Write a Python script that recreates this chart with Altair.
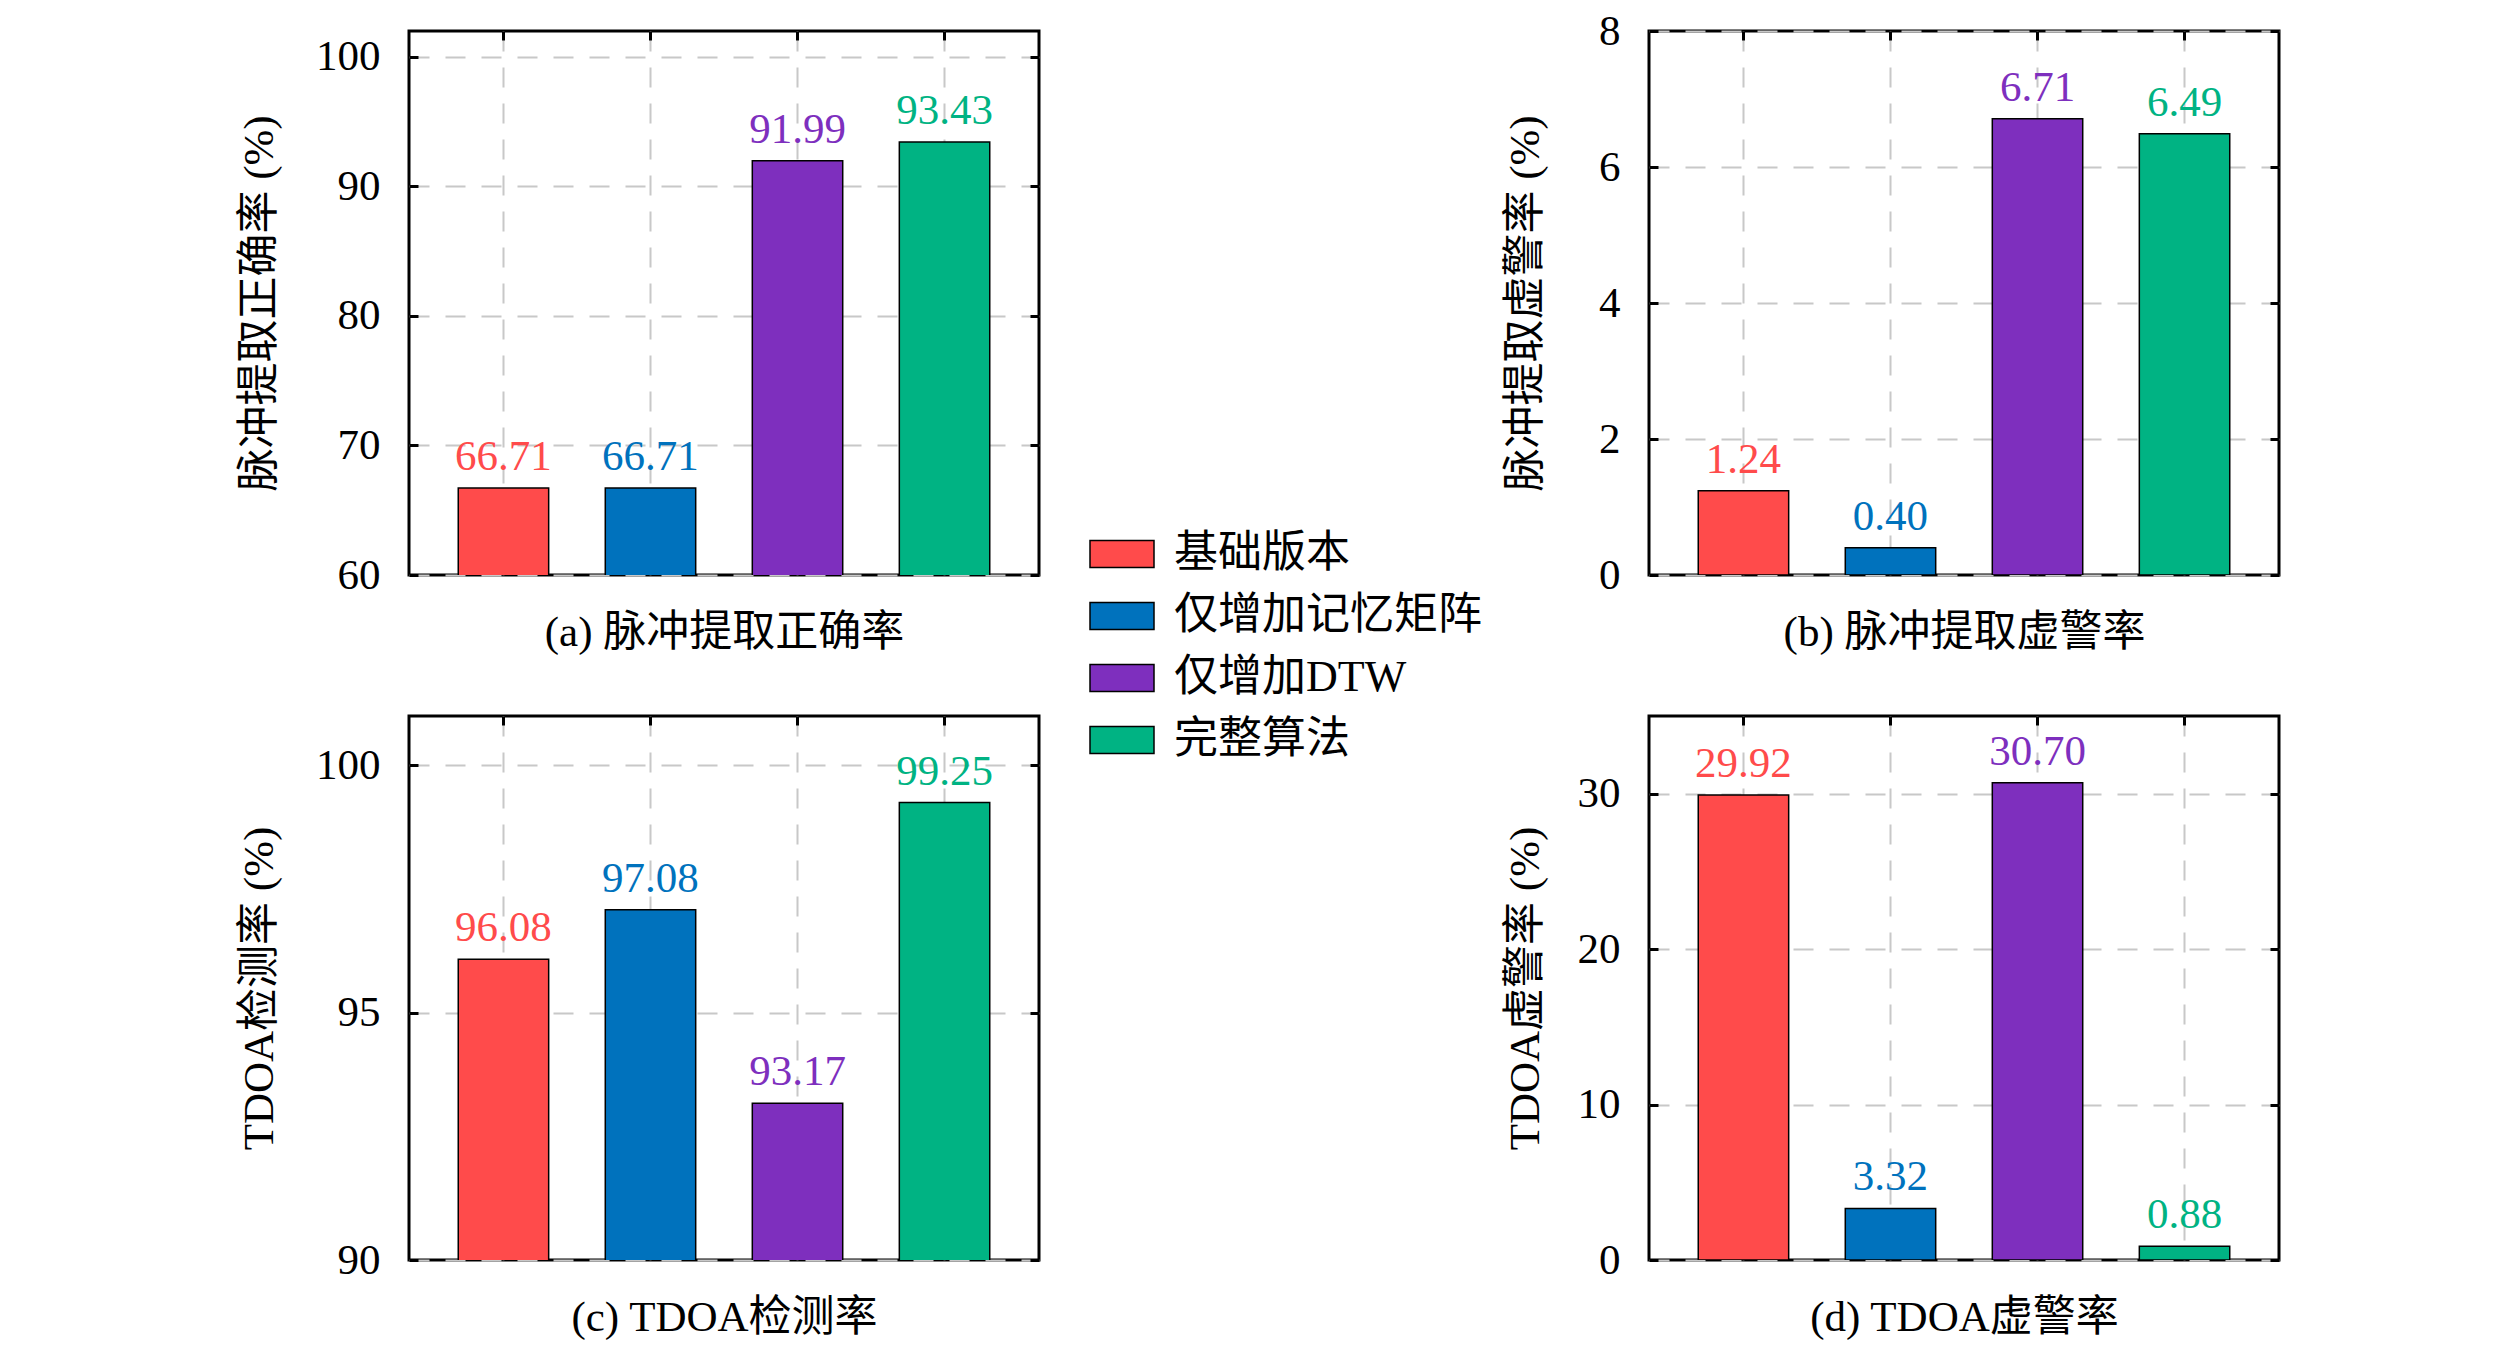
import altair as alt
import pandas as pd

categories = ["基础版本", "仅增加记忆矩阵", "仅增加DTW", "完整算法"]
colors = ["#FF4B4B", "#0072BD", "#7E2FBE", "#00B383"]

pulse_acc = [66.71, 66.71, 91.99, 93.43]
pulse_fa = [1.24, 0.40, 6.71, 6.49]
tdoa_det = [96.08, 97.08, 93.17, 99.25]
tdoa_fa = [29.92, 3.32, 30.70, 0.88]

x_titles = ["(a) 脉冲提取正确率", "(b) 脉冲提取虚警率", "(c) TDOA检测率", "(d) TDOA虚警率"]
y_titles = ["脉冲提取正确率 (%)", "脉冲提取虚警率 (%)", "TDOA检测率 (%)", "TDOA虚警率 (%)"]
y_domains = [[60, 102], [0, 8], [90, 101], [0, 35]]
y_ticks = [[60, 70, 80, 90, 100], [0, 2, 4, 6, 8], [90, 95, 100], [0, 10, 20, 30]]

FONT = "Liberation Serif, Noto Sans CJK SC"
FS = 43
TICK = 9
W, H = 630, 544

legend = alt.Legend(
    orient="none", legendX=680, legendY=490, title=None,
    symbolType="M-1,-0.42H1V0.42H-1Z", symbolSize=4096,
    symbolStrokeColor="black", symbolStrokeWidth=1.5, symbolOpacity=1,
    labelFont=FONT, labelFontSize=44, labelOffset=19, labelLimit=1000,
    labelColor="black", rowPadding=7, padding=0,
)


def panel(values, xtitle, ytitle, domain, ticks, title_x):
    df = pd.DataFrame({"方案": categories, "值": values,
                       "标签": [f"{v:.2f}" for v in values]})
    xscale = alt.Scale(domain=categories, paddingInner=0.385, paddingOuter=0.335)
    yscale = alt.Scale(domain=domain, nice=False, zero=False)
    cscale = alt.Scale(domain=categories, range=colors)
    base = alt.Chart(df)
    bars = base.mark_bar(stroke="black", strokeWidth=1.5, clip=True).encode(
        x=alt.X("方案:N", sort=categories, scale=xscale,
                axis=alt.Axis(orient="bottom", title=xtitle, labels=False, grid=True,
                              tickSize=TICK, offset=-TICK, titlePadding=35)),
        y=alt.Y("值:Q", scale=yscale,
                axis=alt.Axis(orient="left", values=ticks, title=ytitle, grid=True,
                              tickSize=TICK, offset=-TICK, labelPadding=29,
                              titleX=title_x)),
        color=alt.Color("方案:N", scale=cscale, legend=legend),
    )
    labels = base.mark_text(font=FONT, fontSize=FS, baseline="alphabetic", dy=-18).encode(
        x=alt.X("方案:N", sort=categories, scale=xscale, axis=None),
        y=alt.Y("值:Q", scale=yscale, axis=None),
        text="标签:N",
        color=alt.Color("方案:N", scale=cscale, legend=legend),
    )
    mirror = base.mark_point(opacity=0).encode(
        x=alt.X("方案:N", sort=categories, scale=xscale,
                axis=alt.Axis(orient="top", labels=False, grid=False, title=None,
                              tickSize=TICK, offset=-TICK)),
        y=alt.Y("值:Q", scale=yscale,
                axis=alt.Axis(orient="right", values=ticks, labels=False, grid=False,
                              title=None, tickSize=TICK, offset=-TICK)),
    )
    return alt.layer(bars, labels, mirror).resolve_axis(
        x="independent", y="independent").properties(width=W, height=H)


pa = panel(pulse_acc, x_titles[0], y_titles[0], y_domains[0], y_ticks[0], -137)
pb = panel(pulse_fa, x_titles[1], y_titles[1], y_domains[1], y_ticks[1], -111)
pc = panel(tdoa_det, x_titles[2], y_titles[2], y_domains[2], y_ticks[2], -137)
pd_ = panel(tdoa_fa, x_titles[3], y_titles[3], y_domains[3], y_ticks[3], -111)

left = alt.vconcat(pa, pc, spacing=57)
right = alt.vconcat(pb, pd_, spacing=57)

chart = alt.hconcat(left, right, spacing=460).resolve_scale(color="shared").properties(
    padding={"left": 228, "top": 0, "right": 10, "bottom": 0}
).configure_view(
    stroke="black", strokeWidth=3
).configure_axis(
    domain=False, tickColor="black", tickWidth=3,
    gridColor="#c8c8c8", gridDash=[20, 16], gridWidth=2,
    labelFont=FONT, labelFontSize=FS, labelColor="black",
    titleFont=FONT, titleFontSize=FS, titleFontWeight="normal", titleColor="black",
)

chart.save("out.html", embed_options={"renderer": "svg", "actions": False})
